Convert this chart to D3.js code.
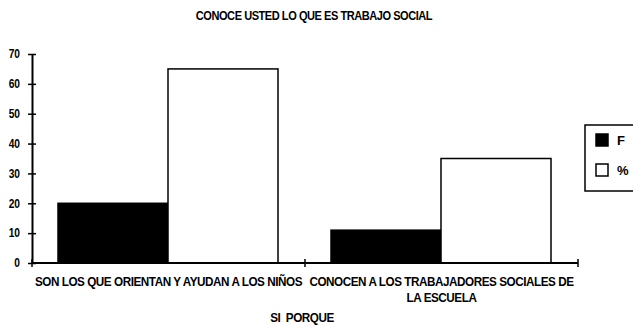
<!DOCTYPE html>
<html>
<head>
<meta charset="utf-8">
<script src="https://cdn.jsdelivr.net/npm/d3@7"></script>
<style>
  body { margin: 0; background: #fff; }
  text { font-family: "Liberation Sans", Arial, sans-serif; font-weight: bold; fill: #000; }
</style>
</head>
<body>
<script>
'use strict';
(function() {

  // chart data
  let categories = [
    ["SON LOS QUE ORIENTAN Y AYUDAN A LOS NIÑOS"],
    ["CONOCEN A LOS TRABAJADORES SOCIALES DE", "LA ESCUELA"]
  ];
  let seriesNames = ["F", "%"];
  let valuesF = [20, 11];
  let valuesPct = [65, 35];
  let yTicks = [0, 10, 20, 30, 40, 50, 60, 70];
  let seriesFill = ["#000", "#fff"];

  let svg = d3.select('body')
    .append('svg')
    .attr('width', 633)
    .attr('height', 325);

  // squeeze text horizontally, the original uses a narrow face
  function condense(sel, factor) {
    sel.each(function() {
      let w = this.getComputedTextLength();
      d3.select(this)
        .attr('textLength', w * factor)
        .attr('lengthAdjust', 'spacingAndGlyphs');
    });
  }

  let catKeys = categories.map((c, i) => i);

  // category band scale
  let x0 = d3.scaleBand()
    .domain(catKeys)
    .range([32, 578]);

  // bars inside each category
  let x1 = d3.scaleBand()
    .domain([0, 1])
    .range([26, x0.bandwidth() - 27]);

  let y = d3.scaleLinear()
    .domain([0, 70])
    .range([263, 54]);

  // bars
  let rows = catKeys.map((i) => [valuesF[i], valuesPct[i]]);
  let groups = svg.selectAll('.grp')
    .data(rows)
    .enter()
    .append('g')
    .attr('transform', (d, i) => 'translate(' + x0(i) + ',0)');

  groups.selectAll('rect')
    .data((d) => d)
    .enter()
    .append('rect')
      .attr('x', (d, j) => x1(j))
      .attr('y', (d) => y(d))
      .attr('width', x1.bandwidth())
      .attr('height', (d) => y(0) - y(d))
      .attr('fill', (d, j) => seriesFill[j])
      .attr('stroke', '#000')
      .attr('stroke-width', 1.5);

  // y axis
  let yAxis = d3.axisLeft(y)
    .tickValues(yTicks)
    .tickSizeInner(4)
    .tickSizeOuter(0)
    .tickPadding(8);
  let gy = svg.append('g')
    .attr('transform', 'translate(32,0)')
    .call(yAxis);
  gy.select('.domain').attr('stroke-width', 2);
  gy.selectAll('.tick line').attr('x2', 4).attr('x1', -4).attr('stroke-width', 1.5);
  gy.selectAll('.tick text')
    .style('font-size', '12px')
    .style('font-family', '"Liberation Sans", Arial, sans-serif')
    .style('font-weight', 'bold')
    .attr('x', -12);
  condense(gy.selectAll('.tick text'), 0.85);

  // x axis
  let gx = svg.append('g')
    .attr('transform', 'translate(0,263)');
  gx.append('line')
    .attr('x1', 32).attr('x2', 578)
    .attr('stroke', '#000').attr('stroke-width', 2);
  let bounds = catKeys.map((i) => x0(i) + x0.bandwidth()).concat([x0(0)]);
  gx.selectAll('.xt')
    .data(bounds)
    .enter()
    .append('line')
      .attr('x1', (d) => d).attr('x2', (d) => d)
      .attr('y1', -4).attr('y2', 4)
      .attr('stroke', '#000').attr('stroke-width', 1.5);

  // category labels, one text per line
  let labelLines = [];
  categories.forEach((c, i) => c.forEach((t, k) => labelLines.push({ t: t, i: i, k: k })));
  let lines = svg.selectAll('.cat')
    .data(labelLines)
    .enter()
    .append('text')
      .attr('class', 'cat')
      .attr('text-anchor', 'middle')
      .style('font-size', '13px')
      .style('letter-spacing', '-0.5px')
      .attr('x', (d) => x0(d.i) + x0.bandwidth() / 2)
      .attr('y', (d) => 286 + d.k * 16)
      .text((d) => d.t);
  condense(lines, 0.9);

  // title and axis title
  let title = svg.append('text')
    .attr('x', 314)
    .attr('y', 20)
    .attr('text-anchor', 'middle')
    .style('font-size', '12px')
    .style('letter-spacing', '-0.5px')
    .text('CONOCE USTED LO QUE ES TRABAJO SOCIAL');
  condense(title, 0.92);

  let xTitle = svg.append('text')
    .attr('x', 302)
    .attr('y', 322)
    .attr('text-anchor', 'middle')
    .style('font-size', '13px')
    .style('letter-spacing', '-0.5px')
    .style('word-spacing', '3px')
    .text('SI PORQUE');
  condense(xTitle, 0.9);

  // legend
  let legend = svg.append('g');
  legend.append('rect')
    .attr('x', 585).attr('y', 125)
    .attr('width', 60).attr('height', 66)
    .attr('fill', '#fff').attr('stroke', '#000').attr('stroke-width', 1.5);
  let items = legend.selectAll('.li')
    .data(seriesNames)
    .enter()
    .append('g')
    .attr('transform', (d, i) => 'translate(596,' + (134 + i * 30) + ')');
  items.append('rect')
    .attr('width', 12).attr('height', 12)
    .attr('fill', (d, i) => seriesFill[i])
    .attr('stroke', '#000').attr('stroke-width', 1.5);
  items.append('text')
    .attr('x', 21).attr('y', 11)
    .style('font-size', '13px')
    .text((d) => d);

})();
</script>
</body>
</html>
